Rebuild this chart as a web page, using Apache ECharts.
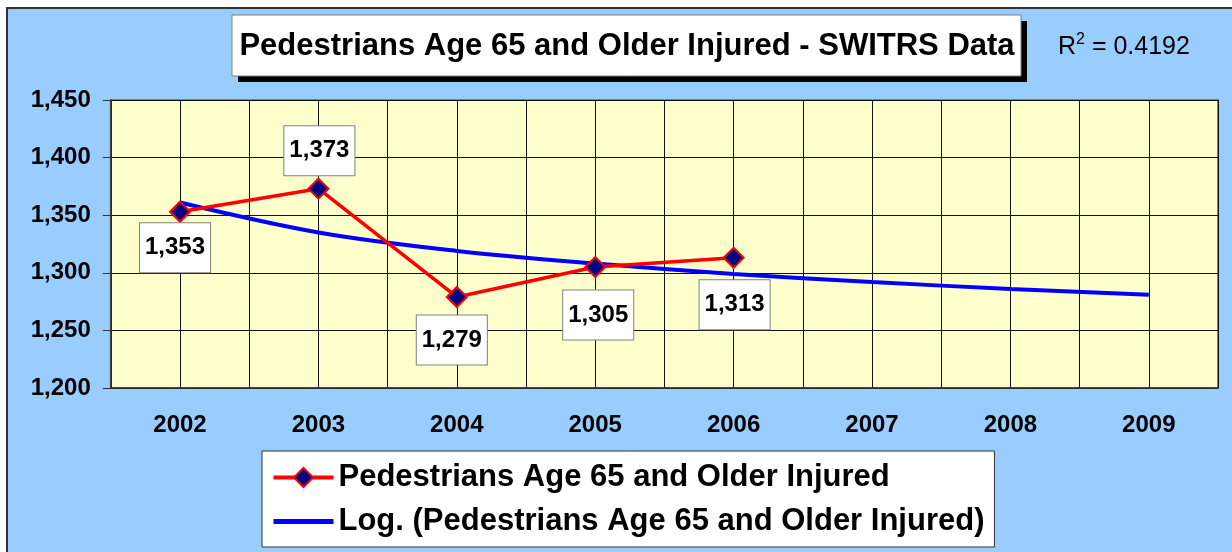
<!DOCTYPE html>
<html>
<head>
<meta charset="utf-8">
<script src="https://cdn.jsdelivr.net/npm/echarts@6/dist/echarts.min.js"></script>
<style>
  html, body { margin: 0; padding: 0; background: #fff; }
  #main { width: 1232px; height: 552px; }
</style>
</head>
<body>
<div id="main"></div>
<script>
var years = ['2002', '2003', '2004', '2005', '2006', '2007', '2008', '2009'];
var injured = [1353, 1373, 1279, 1305, 1313];
var logTrend = [1361, 1335, 1319, 1308, 1299, 1292, 1286, 1281];
var rSquared = '0.4192';

// where each value box sits relative to its marker
var labelShift = [[-5, 36], [1, -38], [-5, 43], [3, 48], [1, 47]];

var font = 'Liberation Sans, Arial, sans-serif';
var chartDom = document.getElementById('main');
var myChart = echarts.init(chartDom);
var option;

var pointData = injured.map(function (v, i) {
    return {
        value: v,
        label: { offset: labelShift[i] }
    };
});

option = {
    backgroundColor: '#ffffff',
    animation: false,
    graphic: [
        {
            type: 'rect', z: -10, silent: true,
            shape: { x: 7, y: 8, width: 1240, height: 560 },
            style: { fill: '#99CCFF', stroke: '#333333', lineWidth: 2 }
        },
        {
            type: 'rect', z: 10,
            shape: { x: 238, y: 21, width: 789, height: 61 },
            style: { fill: '#000000' }
        },
        {
            type: 'rect', z: 11,
            shape: { x: 232, y: 15, width: 789, height: 61 },
            style: { fill: '#ffffff', stroke: '#808080', lineWidth: 1 }
        },
        {
            type: 'text', z: 12,
            x: 627, y: 46,
            style: {
                text: 'Pedestrians Age 65 and Older Injured - SWITRS Data',
                font: 'bold 31px ' + font,
                fill: '#000',
                align: 'center',
                verticalAlign: 'middle'
            }
        },
        {
            type: 'text', z: 12,
            x: 1058, y: 47,
            style: {
                text: 'R{s|2} = ' + rSquared,
                font: '25px ' + font,
                fill: '#000',
                verticalAlign: 'middle',
                rich: {
                    s: { fontSize: 16, fontFamily: font, verticalAlign: 'top', padding: [0, 0, 14, 0] }
                }
            }
        }
    ],
    legend: {
        orient: 'vertical',
        left: 262,
        top: 451,
        padding: [11, 10, 10, 9],
        itemGap: 13,
        itemWidth: 60,
        itemHeight: 24,
        backgroundColor: '#ffffff',
        borderColor: '#333333',
        borderWidth: 1,
        textStyle: { fontSize: 31, fontWeight: 'bold', fontFamily: font, color: '#000' },
        data: [
            {
                name: 'Pedestrians Age 65 and Older Injured',
                lineStyle: { width: 4 }
            },
            {
                name: 'Log. (Pedestrians Age 65 and Older Injured)',
                lineStyle: { width: 5 },
                itemStyle: { opacity: 0 }
            }
        ]
    },
    grid: {
        left: 110.8,
        right: 14,
        top: 100,
        bottom: 164,
        show: true,
        backgroundColor: '#FFFFCC',
        borderColor: '#808080',
        borderWidth: 2
    },
    xAxis: [
        {
            type: 'category',
            data: years,
            boundaryGap: true,
            axisLine: { lineStyle: { color: '#333', width: 1.5 } },
            axisTick: { length: 7, lineStyle: { color: '#333' } },
            axisLabel: { fontSize: 24, fontWeight: 'bold', fontFamily: font, color: '#000', margin: 25 },
            splitLine: { show: false }
        },
        {
            type: 'value',
            position: 'top',
            min: 2001.5,
            max: 2009.5,
            interval: 0.5,
            axisLine: { show: false },
            axisTick: { show: false },
            axisLabel: { show: false },
            splitLine: { show: true, lineStyle: { color: '#111', width: 1 } }
        }
    ],
    yAxis: {
        type: 'value',
        min: 1200,
        max: 1450,
        interval: 50,
        axisLine: { show: true, lineStyle: { color: '#333', width: 1.5 } },
        axisTick: { show: true, length: 8, lineStyle: { color: '#333' } },
        axisLabel: {
            fontSize: 24, fontWeight: 'bold', fontFamily: font, color: '#000', margin: 20,
            formatter: function (v) { return v.toLocaleString('en-US'); }
        },
        splitLine: { show: true, lineStyle: { color: '#111', width: 1 } }
    },
    series: [
        {
            name: 'Log. (Pedestrians Age 65 and Older Injured)',
            type: 'line',
            data: logTrend,
            smooth: 0.35,
            showSymbol: false,
            symbol: 'none',
            lineStyle: { color: '#0000FF', width: 4 },
            itemStyle: { color: '#0000FF' },
            z: 3
        },
        {
            name: 'Pedestrians Age 65 and Older Injured',
            type: 'line',
            data: pointData,
            symbol: 'diamond',
            symbolSize: 20,
            lineStyle: { color: '#FF0000', width: 3.5 },
            itemStyle: { color: '#000080', borderColor: '#FF0000', borderWidth: 2 },
            label: {
                show: true,
                position: 'inside',
                fontSize: 24,
                fontWeight: 'bold',
                fontFamily: font,
                color: '#000',
                backgroundColor: '#ffffff',
                borderColor: '#808080',
                borderWidth: 1,
                padding: [12, 5],
                lineHeight: 25,
                formatter: function (p) { return p.value.toLocaleString('en-US'); }
            },
            z: 4
        }
    ]
};

option && myChart.setOption(option);
</script>
</body>
</html>
